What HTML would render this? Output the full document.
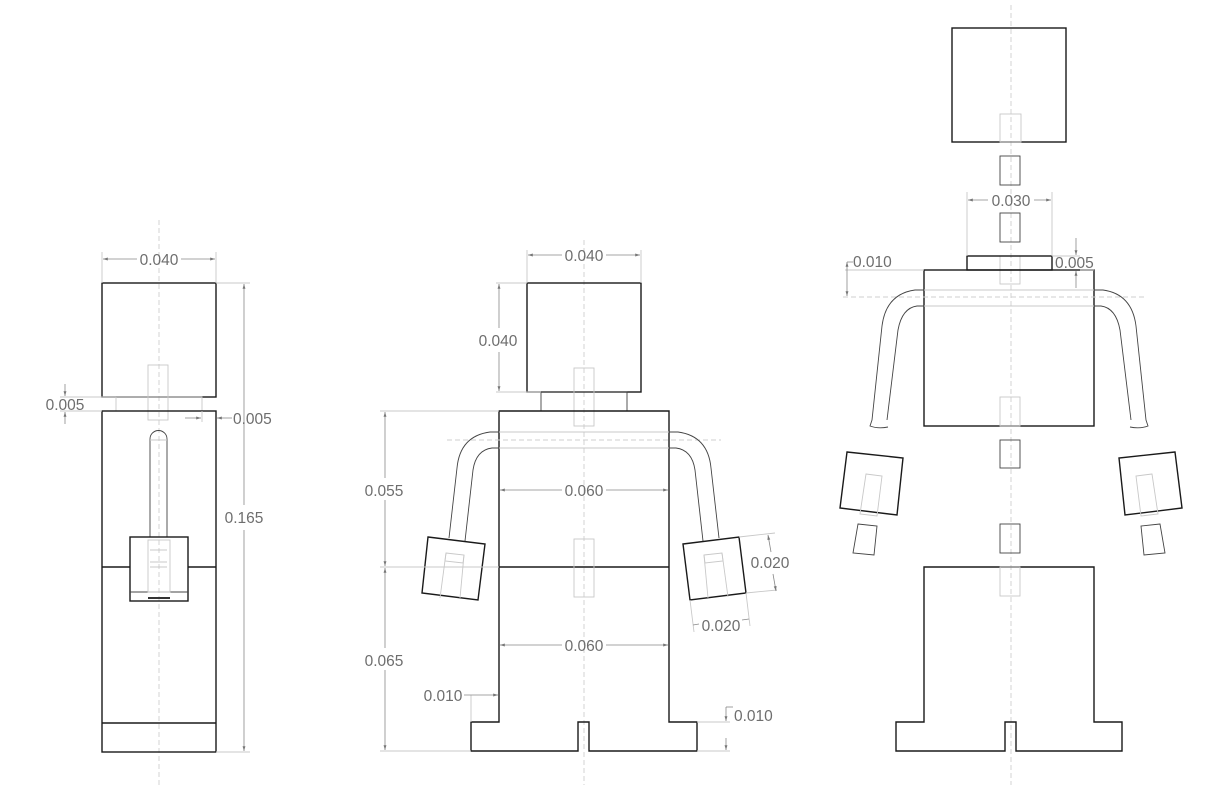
<!DOCTYPE html>
<html><head><meta charset="utf-8"><style>
html,body{margin:0;padding:0;background:#fff;}
svg{display:block;}
text{font-family:"Liberation Sans",sans-serif;font-size:15.5px;fill:#6e6e6e;}
.k{fill:none;stroke:#1a1a1a;stroke-width:1.4;}
.a{fill:none;stroke:#444;stroke-width:0.9;}
.g{fill:none;stroke:#c8c8c8;stroke-width:0.9;}
.d{fill:none;stroke:#888;stroke-width:0.8;}
.c{fill:none;stroke:#cfcfcf;stroke-width:0.9;stroke-dasharray:5 3;}
</style></head><body>
<svg width="1224" height="792" viewBox="0 0 1224 792" xmlns="http://www.w3.org/2000/svg">
<defs>
<marker id="ar" viewBox="0 0 10 10" refX="10" refY="5" markerWidth="8" markerHeight="6" orient="auto-start-reverse"><path d="M0,2 L10,5 L0,8 z" fill="#777"/></marker>
</defs>

<line class="c" x1="159" y1="220" x2="159" y2="785"/>
<line class="c" x1="584" y1="240" x2="584" y2="785"/>
<line class="c" x1="1011" y1="5" x2="1011" y2="785"/>

<!-- VIEW 1 -->
<rect class="k" x="102" y="283" width="114" height="114"/>
<rect class="g" x="116" y="397" width="86" height="14"/>
<rect class="g" x="148" y="365" width="20" height="55"/>
<rect class="k" x="102" y="411" width="114" height="341"/>
<line class="k" x1="102" y1="567" x2="130" y2="567"/>
<line class="k" x1="188" y1="567" x2="216" y2="567"/>
<line class="k" x1="102" y1="723" x2="216" y2="723"/>
<path class="a" d="M150,537 L150,439 A8.5,8.5 0 0 1 167,439 L167,537"/>
<line class="g" x1="150" y1="440" x2="167" y2="440"/>
<rect class="k" x="130" y="537" width="58" height="64"/>
<line class="a" x1="130" y1="592" x2="188" y2="592"/>
<rect x="148" y="597" width="22" height="2" fill="#333"/>
<rect class="g" x="148" y="540" width="22" height="52"/>
<line class="g" x1="150" y1="550" x2="167" y2="550"/>
<line class="g" x1="150" y1="562" x2="167" y2="562"/>
<line class="g" x1="150" y1="567" x2="167" y2="567"/>
<line class="g" x1="102" y1="252" x2="102" y2="283"/>
<line class="g" x1="216" y1="252" x2="216" y2="283"/>
<line class="d" x1="103" y1="259" x2="137" y2="259" marker-start="url(#ar)"/>
<line class="d" x1="181" y1="259" x2="215" y2="259" marker-end="url(#ar)"/>
<text x="159" y="265" text-anchor="middle">0.040</text>
<line class="g" x1="216" y1="283" x2="250" y2="283"/>
<line class="g" x1="216" y1="752" x2="250" y2="752"/>
<line class="d" x1="244" y1="284" x2="244" y2="505" marker-start="url(#ar)"/>
<line class="d" x1="244" y1="530" x2="244" y2="751" marker-end="url(#ar)"/>
<text x="244" y="523" text-anchor="middle">0.165</text>
<line class="g" x1="60" y1="397" x2="116" y2="397"/>
<line class="g" x1="60" y1="411" x2="102" y2="411"/>
<line class="d" x1="65" y1="384" x2="65" y2="396" marker-end="url(#ar)"/>
<line class="d" x1="65" y1="424" x2="65" y2="412" marker-end="url(#ar)"/>
<text x="65" y="410" text-anchor="middle">0.005</text>
<line class="g" x1="202" y1="411" x2="202" y2="422"/>
<line class="d" x1="185" y1="418" x2="201" y2="418" marker-end="url(#ar)"/>
<line class="d" x1="232" y1="418" x2="217" y2="418" marker-end="url(#ar)"/>
<text x="233" y="424">0.005</text>

<!-- VIEW 2 -->
<rect class="k" x="527" y="283" width="114" height="109"/>
<rect class="a" x="541" y="392" width="86" height="19"/>
<rect class="g" x="574" y="368" width="20" height="58"/>
<path class="k" d="M499,411 L669,411 L669,722 L697,722 L697,751 L589,751 L589,722 L578,722 L578,751 L471,751 L471,722 L499,722 Z"/>
<line class="k" x1="499" y1="567" x2="669" y2="567"/>
<rect class="g" x="574" y="539" width="20" height="58"/>
<line class="g" x1="499" y1="432" x2="669" y2="432"/>
<line class="g" x1="499" y1="448" x2="669" y2="448"/>
<line class="c" x1="447" y1="440" x2="721" y2="440"/>
<path class="a" d="M499,432 L490,432 Q460,436 457,468 L449,538"/>
<path class="a" d="M499,448 L492,448 Q476,450 473,470 L465,541"/>
<path class="a" d="M669,432 L678,432 Q708,436 711,468 L719,538"/>
<path class="a" d="M669,448 L676,448 Q692,450 695,470 L703,541"/>
<polygon class="k" points="428,537 485,544 478,600 422,593"/>
<polygon class="k" points="683,544 739,537 746,593 690,600"/>
<polygon class="g" points="446,553 464,555 463,563 445,561"/>
<line class="g" x1="446" y1="553" x2="440" y2="598"/><line class="g" x1="464" y1="555" x2="460" y2="598"/>
<polygon class="g" points="704,555 722,553 723,561 705,563"/>
<line class="g" x1="704" y1="555" x2="708" y2="598"/><line class="g" x1="722" y1="553" x2="728" y2="597"/>
<line class="g" x1="527" y1="250" x2="527" y2="283"/>
<line class="g" x1="641" y1="250" x2="641" y2="283"/>
<line class="d" x1="528" y1="255" x2="562" y2="255" marker-start="url(#ar)"/>
<line class="d" x1="606" y1="255" x2="640" y2="255" marker-end="url(#ar)"/>
<text x="584" y="261" text-anchor="middle">0.040</text>
<line class="g" x1="496" y1="283" x2="527" y2="283"/>
<line class="g" x1="496" y1="392" x2="541" y2="392"/>
<line class="d" x1="499" y1="284" x2="499" y2="328" marker-start="url(#ar)"/>
<line class="d" x1="499" y1="352" x2="499" y2="391" marker-end="url(#ar)"/>
<text x="498" y="346" text-anchor="middle">0.040</text>
<line class="g" x1="380" y1="411" x2="499" y2="411"/>
<line class="g" x1="380" y1="567" x2="499" y2="567"/>
<line class="g" x1="380" y1="751" x2="471" y2="751"/>
<line class="d" x1="385" y1="412" x2="385" y2="478" marker-start="url(#ar)"/>
<line class="d" x1="385" y1="500" x2="385" y2="566" marker-end="url(#ar)"/>
<text x="384" y="496" text-anchor="middle">0.055</text>
<line class="d" x1="385" y1="568" x2="385" y2="648" marker-start="url(#ar)"/>
<line class="d" x1="385" y1="670" x2="385" y2="750" marker-end="url(#ar)"/>
<text x="384" y="666" text-anchor="middle">0.065</text>
<line class="d" x1="500" y1="490" x2="562" y2="490" marker-start="url(#ar)"/>
<line class="d" x1="606" y1="490" x2="668" y2="490" marker-end="url(#ar)"/>
<text x="584" y="496" text-anchor="middle">0.060</text>
<line class="d" x1="500" y1="645" x2="562" y2="645" marker-start="url(#ar)"/>
<line class="d" x1="606" y1="645" x2="668" y2="645" marker-end="url(#ar)"/>
<text x="584" y="651" text-anchor="middle">0.060</text>
<line class="g" x1="471" y1="695" x2="471" y2="722"/>
<line class="d" x1="464" y1="695" x2="498" y2="695" marker-end="url(#ar)"/>
<text x="443" y="701" text-anchor="middle">0.010</text>
<line class="g" x1="697" y1="722" x2="730" y2="722"/>
<line class="g" x1="697" y1="751" x2="730" y2="751"/>
<line class="d" x1="726" y1="707" x2="726" y2="721" marker-end="url(#ar)"/>
<line class="d" x1="726" y1="738" x2="726" y2="750" marker-end="url(#ar)"/>
<line class="d" x1="726" y1="707" x2="733" y2="707"/>
<text x="734" y="721">0.010</text>
<line class="g" x1="739" y1="537" x2="775" y2="533"/>
<line class="g" x1="746" y1="593" x2="777" y2="590"/>
<line class="d" x1="768" y1="535" x2="771" y2="552" marker-start="url(#ar)"/>
<line class="d" x1="773" y1="574" x2="776" y2="591" marker-end="url(#ar)"/>
<text x="770" y="568" text-anchor="middle">0.020</text>
<line class="g" x1="690" y1="600" x2="694" y2="632"/>
<line class="g" x1="746" y1="593" x2="750" y2="626"/>
<line class="d" x1="699" y1="624" x2="693" y2="625"/>
<line class="d" x1="742" y1="620" x2="749" y2="619"/>
<text x="721" y="631" text-anchor="middle">0.020</text>

<!-- VIEW 3 -->
<rect class="k" x="952" y="28" width="114" height="114"/>
<rect class="g" x="1000" y="114" width="21" height="28"/>
<rect class="a" x="1000" y="156" width="20" height="29"/>
<rect class="a" x="1000" y="213" width="20" height="29"/>
<rect class="g" x="1000" y="256" width="20" height="28"/>
<rect class="k" x="967" y="256" width="85" height="14"/>
<rect class="k" x="924" y="270" width="170" height="156"/>
<rect class="g" x="1000" y="397" width="20" height="29"/>
<line class="g" x1="924" y1="290" x2="1094" y2="290"/>
<line class="g" x1="924" y1="306" x2="1094" y2="306"/>
<line class="c" x1="843" y1="297" x2="1147" y2="297"/>
<rect class="a" x="1000" y="440" width="20" height="28"/>
<rect class="a" x="1000" y="524" width="20" height="29"/>
<path class="k" d="M924,567 L1094,567 L1094,722 L1122,722 L1122,751 L1016,751 L1016,722 L1005,722 L1005,751 L896,751 L896,722 L924,722 Z"/>
<rect class="g" x="1000" y="567" width="20" height="29"/>
<path class="a" d="M924,290 L915,290 Q886,294 882,326 L872,420 L870,426 Q878,429 888,427"/>
<path class="a" d="M924,306 L917,306 Q902,308 898,330 L887,420"/>
<path class="a" d="M1094,290 L1103,290 Q1132,294 1136,326 L1146,420 L1148,426 Q1140,429 1130,427"/>
<path class="a" d="M1094,306 L1101,306 Q1116,308 1120,330 L1131,420"/>
<polygon class="k" points="847,452 903,458 897,515 840,508"/>
<polygon class="k" points="1175,452 1119,458 1125,515 1182,508"/>
<polygon class="g" points="866,474 882,476 877,516 860,514"/>
<polygon class="g" points="1152,474 1136,476 1141,516 1158,514"/>
<polygon class="a" points="858,524 877,526 874,555 853,553"/>
<polygon class="a" points="1160,524 1141,526 1144,555 1165,553"/>
<line class="g" x1="967" y1="192" x2="967" y2="256"/>
<line class="g" x1="1052" y1="192" x2="1052" y2="256"/>
<line class="d" x1="968" y1="200" x2="988" y2="200" marker-start="url(#ar)"/>
<line class="d" x1="1034" y1="200" x2="1051" y2="200" marker-end="url(#ar)"/>
<text x="1011" y="206" text-anchor="middle">0.030</text>
<line class="g" x1="1052" y1="256" x2="1080" y2="256"/>
<line class="g" x1="1094" y1="270" x2="1080" y2="270"/>
<line class="d" x1="1076" y1="238" x2="1076" y2="255" marker-end="url(#ar)"/>
<line class="d" x1="1076" y1="288" x2="1076" y2="271" marker-end="url(#ar)"/>
<text x="1055" y="268">0.005</text>
<line class="g" x1="845" y1="270" x2="924" y2="270"/>
<line class="d" x1="847" y1="262" x2="847" y2="296" marker-start="url(#ar)" marker-end="url(#ar)"/>
<line class="d" x1="847" y1="262" x2="853" y2="262"/>
<text x="853" y="267">0.010</text>
</svg>
</body></html>
